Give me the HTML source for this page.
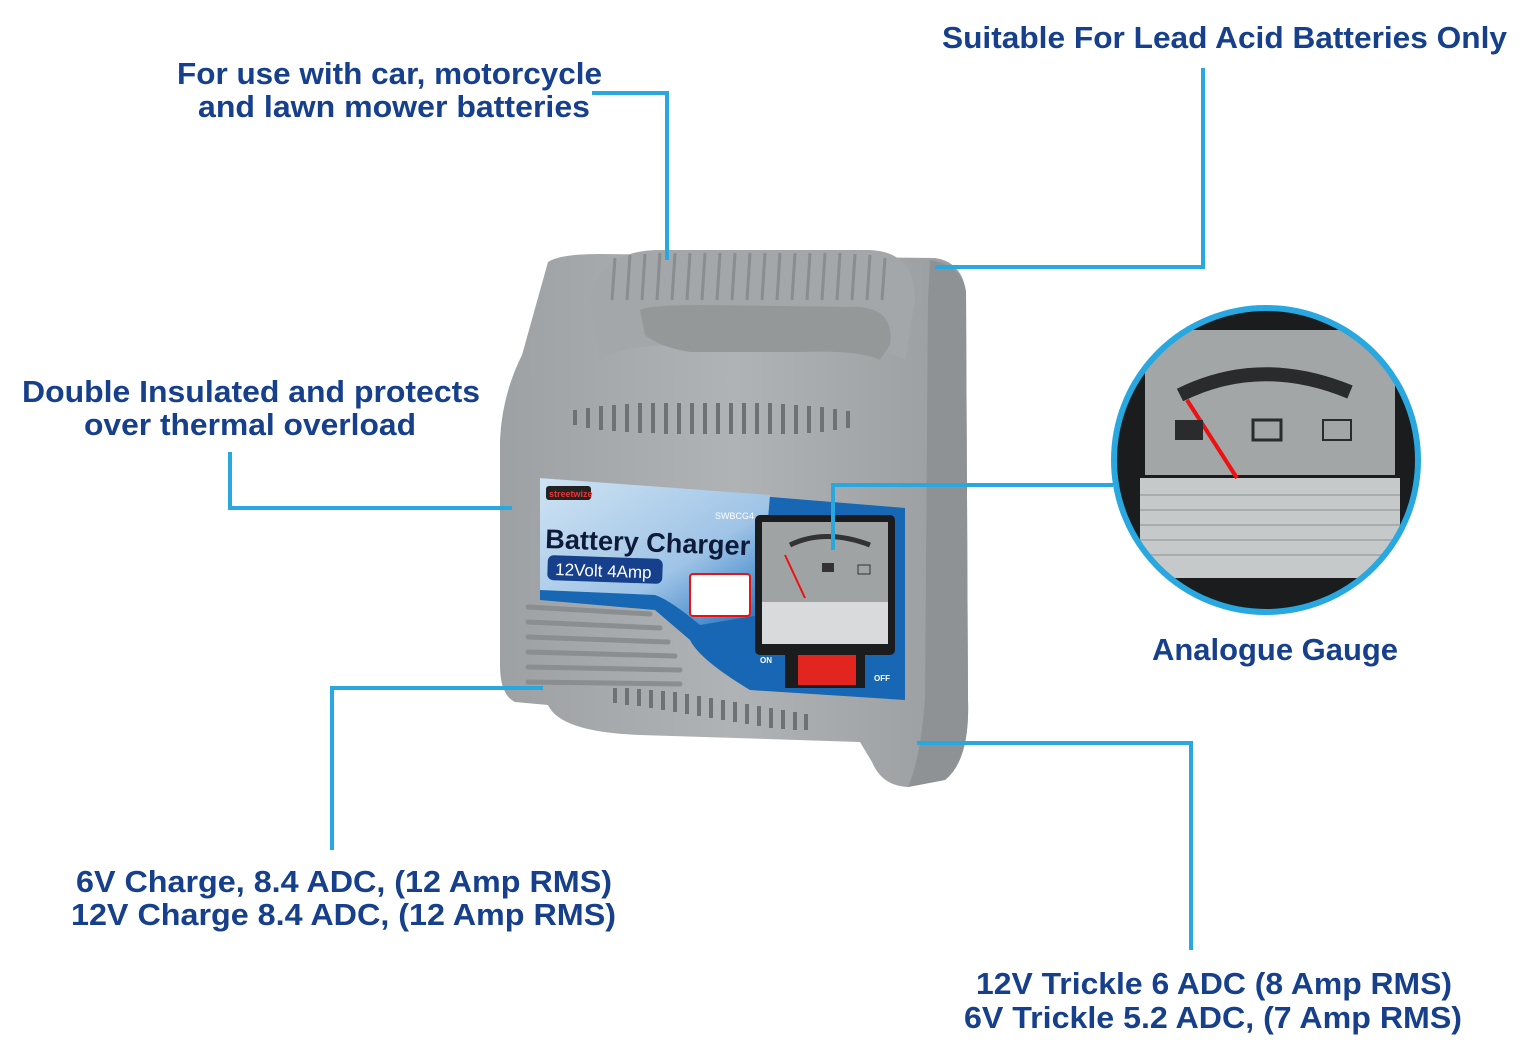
<!DOCTYPE html>
<html><head><style>
html,body{margin:0;padding:0;background:#fff;}
svg{display:block}
text{font-family:"Liberation Sans",sans-serif;font-weight:bold;fill:#163f8c;font-size:31px}
</style></head><body>
<svg width="1532" height="1056" viewBox="0 0 1532 1056" xmlns="http://www.w3.org/2000/svg">
<defs>
<linearGradient id="bg" x1="0" y1="0" x2="1" y2="0"><stop offset="0" stop-color="#9ea1a3"/><stop offset="0.5" stop-color="#b0b3b5"/><stop offset="1" stop-color="#9a9d9f"/></linearGradient>
<linearGradient id="lab" x1="0" y1="0" x2="1" y2="1"><stop offset="0" stop-color="#cfe3f3"/><stop offset="0.6" stop-color="#9fc4e6"/><stop offset="1" stop-color="#1b6fbf"/></linearGradient>
</defs>
<path d="M548,262 Q560,254 600,254 L935,258 Q962,262 966,292 L968,700 Q970,760 945,780 L908,787 Q882,786 872,762 L860,742 L640,735 Q560,732 548,705 L515,702 Q500,695 500,665 L500,440 Q502,395 522,355 Z" fill="url(#bg)"/>
<path d="M930,260 Q962,265 966,292 L968,700 Q970,760 945,780 L908,787 Q920,760 925,700 L928,300 Z" fill="#8f9294"/>
<path d="M590,300 Q600,250 660,250 L870,250 Q915,252 915,300 L905,360 Q880,345 830,345 L680,345 Q620,345 600,360 Z" fill="#a4a7a9"/>
<g stroke="#8a8d8f" stroke-width="3">
<line x1="615" y1="258" x2="612" y2="300"/><line x1="630" y1="255" x2="627" y2="300"/><line x1="645" y1="254" x2="642" y2="300"/><line x1="660" y1="253" x2="657" y2="300"/><line x1="675" y1="253" x2="672" y2="300"/><line x1="690" y1="253" x2="687" y2="300"/><line x1="705" y1="253" x2="702" y2="300"/><line x1="720" y1="253" x2="717" y2="300"/><line x1="735" y1="253" x2="732" y2="300"/><line x1="750" y1="253" x2="747" y2="300"/><line x1="765" y1="253" x2="762" y2="300"/><line x1="780" y1="253" x2="777" y2="300"/><line x1="795" y1="253" x2="792" y2="300"/><line x1="810" y1="253" x2="807" y2="300"/><line x1="825" y1="253" x2="822" y2="300"/><line x1="840" y1="253" x2="837" y2="300"/><line x1="855" y1="254" x2="852" y2="300"/><line x1="870" y1="255" x2="867" y2="300"/><line x1="885" y1="258" x2="882" y2="300"/>
</g>
<path d="M640,310 Q650,305 700,305 L860,307 Q895,310 890,345 L880,360 Q860,350 800,352 L690,352 Q660,347 645,335 Z" fill="#959899"/>
<g stroke="#6f7274" stroke-width="4">
<line x1="575" y1="410" x2="575" y2="425"/><line x1="588" y1="408" x2="588" y2="428"/><line x1="601" y1="406" x2="601" y2="430"/><line x1="614" y1="405" x2="614" y2="431"/><line x1="627" y1="404" x2="627" y2="432"/><line x1="640" y1="403" x2="640" y2="433"/><line x1="653" y1="403" x2="653" y2="433"/><line x1="666" y1="403" x2="666" y2="434"/><line x1="679" y1="403" x2="679" y2="434"/><line x1="692" y1="403" x2="692" y2="434"/><line x1="705" y1="403" x2="705" y2="434"/><line x1="718" y1="403" x2="718" y2="434"/><line x1="731" y1="403" x2="731" y2="434"/><line x1="744" y1="403" x2="744" y2="434"/><line x1="757" y1="403" x2="757" y2="434"/><line x1="770" y1="403" x2="770" y2="434"/><line x1="783" y1="404" x2="783" y2="434"/><line x1="796" y1="405" x2="796" y2="434"/><line x1="809" y1="406" x2="809" y2="433"/><line x1="822" y1="407" x2="822" y2="432"/><line x1="835" y1="409" x2="835" y2="430"/><line x1="848" y1="411" x2="848" y2="428"/>
</g>
<path d="M540,478 L905,508 L905,700 L750,690 Q700,660 690,640 L655,610 L540,600 Z" fill="#1767b4"/>
<path d="M540,478 L770,495 L760,615 L700,625 Q670,600 655,595 L540,590 Z" fill="url(#lab)"/>
<rect x="546" y="486" width="45" height="14" fill="#222" rx="3"/>
<text x="549" y="497" style="font-size:9px;fill:#e33">streetwize</text>
<text x="715" y="519" style="font-size:9px;fill:#fff;font-weight:normal">SWBCG4</text>
<text x="545" y="548" style="font-size:27px;fill:#0d1a3a" transform="rotate(2 545 548)" textLength="205" lengthAdjust="spacingAndGlyphs">Battery Charger</text>
<rect x="548" y="555" width="115" height="25" rx="6" fill="#17408c" transform="rotate(2 548 555)"/>
<text x="555" y="575" style="font-size:17px;fill:#fff;font-weight:normal" transform="rotate(2 555 575)">12Volt 4Amp</text>
<rect x="690" y="574" width="60" height="42" fill="#fff" stroke="#e11" stroke-width="2" rx="3"/>
<rect x="755" y="515" width="140" height="140" fill="#1b1c1e" rx="5"/>
<rect x="762" y="522" width="126" height="80" fill="#9fa3a4"/>
<rect x="762" y="602" width="126" height="42" fill="#d8dadb"/>
<path d="M790,545 Q825,528 870,545" stroke="#333" stroke-width="5" fill="none"/>
<line x1="785" y1="555" x2="805" y2="598" stroke="#e11" stroke-width="2"/>
<rect x="822" y="563" width="12" height="9" fill="#333"/><rect x="858" y="565" width="12" height="9" fill="none" stroke="#333"/>
<rect x="785" y="648" width="80" height="40" fill="#1b1c1e"/>
<rect x="798" y="655" width="58" height="30" fill="#e2261f"/>
<text x="760" y="663" style="font-size:8px;fill:#fff">ON</text>
<text x="874" y="681" style="font-size:8px;fill:#fff">OFF</text>
<g stroke="#8b8e90" stroke-width="5" stroke-linecap="round">
<line x1="528" y1="607" x2="650" y2="614"/><line x1="528" y1="622" x2="660" y2="628"/><line x1="528" y1="637" x2="668" y2="642"/><line x1="528" y1="652" x2="675" y2="656"/><line x1="528" y1="667" x2="680" y2="670"/><line x1="528" y1="682" x2="680" y2="684"/>
</g>
<g stroke="#6f7274" stroke-width="4">
<line x1="615" y1="688" x2="615" y2="703"/><line x1="627" y1="688" x2="627" y2="705"/><line x1="639" y1="689" x2="639" y2="706"/><line x1="651" y1="690" x2="651" y2="708"/><line x1="663" y1="691" x2="663" y2="710"/><line x1="675" y1="692" x2="675" y2="712"/><line x1="687" y1="694" x2="687" y2="714"/><line x1="699" y1="696" x2="699" y2="716"/><line x1="711" y1="698" x2="711" y2="718"/><line x1="723" y1="700" x2="723" y2="720"/><line x1="735" y1="702" x2="735" y2="722"/><line x1="747" y1="704" x2="747" y2="724"/><line x1="759" y1="706" x2="759" y2="726"/><line x1="771" y1="708" x2="771" y2="728"/><line x1="783" y1="710" x2="783" y2="729"/><line x1="795" y1="712" x2="795" y2="730"/><line x1="806" y1="714" x2="806" y2="730"/>
</g>
<clipPath id="cc"><circle cx="1266" cy="460" r="152"/></clipPath>
<g clip-path="url(#cc)">
<rect x="1110" y="305" width="320" height="320" fill="#1b1c1e"/>
<rect x="1145" y="330" width="250" height="145" fill="#a2a6a7"/>
<rect x="1140" y="478" width="260" height="100" fill="#c6c9ca"/>
<g stroke="#a9acad" stroke-width="2"><line x1="1140" y1="495" x2="1400" y2="495"/><line x1="1140" y1="510" x2="1400" y2="510"/><line x1="1140" y1="525" x2="1400" y2="525"/><line x1="1140" y1="540" x2="1400" y2="540"/><line x1="1140" y1="555" x2="1400" y2="555"/></g>
<path d="M1180,395 Q1260,355 1350,392" stroke="#2a2b2d" stroke-width="14" fill="none"/>
<line x1="1187" y1="400" x2="1237" y2="478" stroke="#e11" stroke-width="4"/>
<rect x="1175" y="420" width="28" height="20" fill="#2a2b2d"/>
<rect x="1253" y="420" width="28" height="20" fill="none" stroke="#2a2b2d" stroke-width="3"/>
<rect x="1323" y="420" width="28" height="20" fill="none" stroke="#2a2b2d" stroke-width="2"/>
</g>
<circle cx="1266" cy="460" r="152" fill="none" stroke="#29a8e0" stroke-width="6"/>
<g stroke="#29a8e0" stroke-width="4" fill="none">
<polyline points="592,93 667,93 667,260"/>
<polyline points="1203,68 1203,267 935,267"/>
<polyline points="230,452 230,508 512,508"/>
<polyline points="833,550 833,485 1113,485"/>
<polyline points="543,688 332,688 332,850"/>
<polyline points="917,743 1191,743 1191,950"/>
</g>
<g>
<text x="177" y="84" textLength="425" lengthAdjust="spacingAndGlyphs">For use with car, motorcycle</text>
<text x="198" y="117" textLength="392" lengthAdjust="spacingAndGlyphs">and lawn mower batteries</text>
<text x="942" y="48" textLength="565" lengthAdjust="spacingAndGlyphs">Suitable For Lead Acid Batteries Only</text>
<text x="22" y="402" textLength="458" lengthAdjust="spacingAndGlyphs">Double Insulated and protects</text>
<text x="84" y="435" textLength="332" lengthAdjust="spacingAndGlyphs">over thermal overload</text>
<text x="1152" y="660" textLength="246" lengthAdjust="spacingAndGlyphs">Analogue Gauge</text>
<text x="76" y="892" textLength="536" lengthAdjust="spacingAndGlyphs">6V Charge, 8.4 ADC, (12 Amp RMS)</text>
<text x="71" y="925" textLength="545" lengthAdjust="spacingAndGlyphs">12V Charge 8.4 ADC, (12 Amp RMS)</text>
<text x="976" y="994" textLength="476" lengthAdjust="spacingAndGlyphs">12V Trickle 6 ADC (8 Amp RMS)</text>
<text x="964" y="1028" textLength="498" lengthAdjust="spacingAndGlyphs">6V Trickle 5.2 ADC, (7 Amp RMS)</text>
</g>
</svg>
</body></html>
